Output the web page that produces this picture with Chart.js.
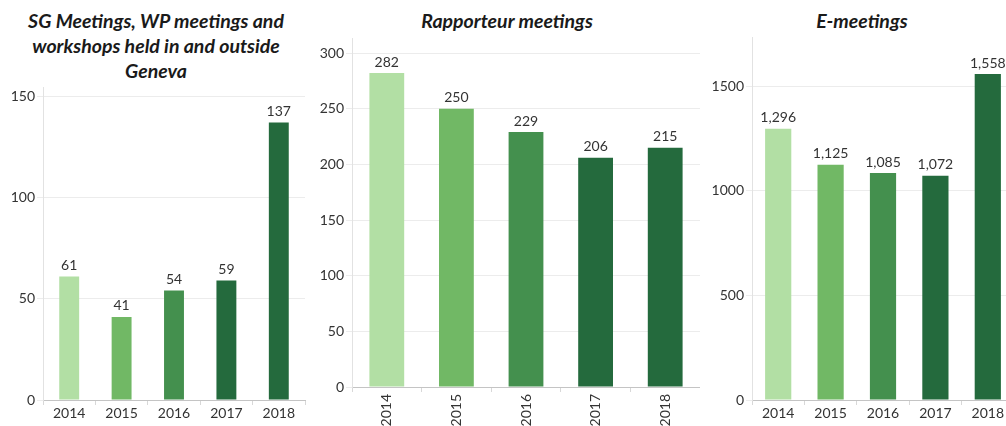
<!DOCTYPE html>
<html>
<head>
<meta charset="utf-8">
<script src="https://cdn.jsdelivr.net/npm/chart.js@4.4.1/dist/chart.umd.min.js"></script>
<style>
    html, body { margin: 0; padding: 0; background: #fff; overflow: hidden; width: 1006px; height: 426px; }
    .panel { position: absolute; top: 0; height: 426px; }
    .title { position: absolute; font-family: Lato, sans-serif; font-weight: bold; font-style: italic;
             font-size: 19.5px; line-height: 25px; color: #1a1a1a; text-align: center; white-space: nowrap; }
</style>
</head>
<body>
<div class="title" style="left: 6px; top: 8px; width: 300px;">SG Meetings, WP meetings and<br>workshops held in and outside<br>Geneva</div>
<div class="title" style="left: 357px; top: 8px; width: 300px;">Rapporteur meetings</div>
<div class="title" style="left: 712px; top: 8px; width: 300px;">E-meetings</div>

<div class="panel" style="left: 0px; width: 310px;"><canvas id="sgChart"></canvas></div>
<div class="panel" style="left: 310px; width: 390px;"><canvas id="rapChart"></canvas></div>
<div class="panel" style="left: 700px; width: 314px;"><canvas id="eChart"></canvas></div>

<script>
const years = ['2014', '2015', '2016', '2017', '2018'];
const sgMeetings = [61, 41, 54, 59, 137];
const rapporteurMeetings = [282, 250, 229, 206, 215];
const eMeetings = [1296, 1125, 1085, 1072, 1558];
const sgTicks = [0, 50, 100, 150];
const rapTicks = [0, 50, 100, 150, 200, 250, 300];
const eTicks = [0, 500, 1000, 1500];
const barColors = ['#b2dfa4', '#71b865', '#44904e', '#246a3d', '#246a3d'];

// draws the value above each bar
const valueLabels = {
    id: 'valueLabels',
    afterDatasetsDraw(chart) {
        const ctx = chart.ctx;
        const meta = chart.getDatasetMeta(0);
        ctx.save();
        ctx.font = '14px Lato, sans-serif';
        ctx.fillStyle = '#333';
        ctx.textAlign = 'center';
        ctx.textBaseline = 'bottom';
        meta.data.forEach((bar, i) => {
            const value = chart.data.datasets[0].data[i];
            ctx.fillText(value.toLocaleString('en-US'), bar.x, bar.y - 4);
        });
        ctx.restore();
    }
};

function makeChart(id, values, tickValues, opts) {
    const context = document.getElementById(id).getContext('2d');
    return new Chart(context, {
        type: 'bar',
        data: {
            labels: years,
            datasets: [{
                data: values,
                backgroundColor: barColors,
                borderWidth: 0,
                categoryPercentage: 1,
                barPercentage: opts.barPct
            }]
        },
        plugins: [valueLabels],
        options: {
            responsive: false,
            animation: false,
            layout: { padding: { top: opts.top, right: opts.right, left: 0, bottom: 0 } },
            plugins: { legend: { display: false }, tooltip: { enabled: false }, title: { display: false } },
            scales: {
                x: {
                    afterFit: s => { s.height = opts.xHeight; },
                    grid: { drawOnChartArea: false, drawTicks: true, tickLength: 5, color: '#d8d8d8' },
                    border: { color: '#c4c4c4', dash: [2, 2] },
                    ticks: {
                        color: '#333',
                        font: { family: 'Lato, sans-serif', size: 14 },
                        padding: opts.rotate ? 2 : 0,
                        minRotation: opts.rotate ? 90 : 0,
                        maxRotation: opts.rotate ? 90 : 0
                    }
                },
                y: {
                    min: 0,
                    max: opts.max,
                    afterFit: s => { s.width = opts.yWidth; },
                    afterBuildTicks: s => { s.ticks = tickValues.map(v => ({ value: v })); },
                    grid: { color: '#ececec', tickLength: 6, drawTicks: true },
                    border: { color: '#e2e2e2' },
                    ticks: {
                        color: '#333',
                        padding: 2,
                        font: { family: 'Lato, sans-serif', size: 14 },
                        callback: v => v
                    }
                }
            }
        }
    });
}

function sizeCanvas(id, w) {
    const c = document.getElementById(id);
    c.width = w;
    c.height = 426;
    c.style.width = w + 'px';
    c.style.height = '426px';
}

document.addEventListener('DOMContentLoaded', () => {
    sizeCanvas('sgChart', 310);
    sizeCanvas('rapChart', 390);
    sizeCanvas('eChart', 314);
    makeChart('sgChart', sgMeetings, sgTicks, { max: 154.5, top: 87, right: 5, yWidth: 43, xHeight: 26, barPct: 0.38 });
    makeChart('rapChart', rapporteurMeetings, rapTicks, { max: 313.5, top: 38, right: 0, yWidth: 42, xHeight: 39, barPct: 0.5, rotate: true });
    makeChart('eChart', eMeetings, eTicks, { max: 1735, top: 37, right: 0, yWidth: 52, xHeight: 26, barPct: 0.5 });
});
</script>
</body>
</html>
